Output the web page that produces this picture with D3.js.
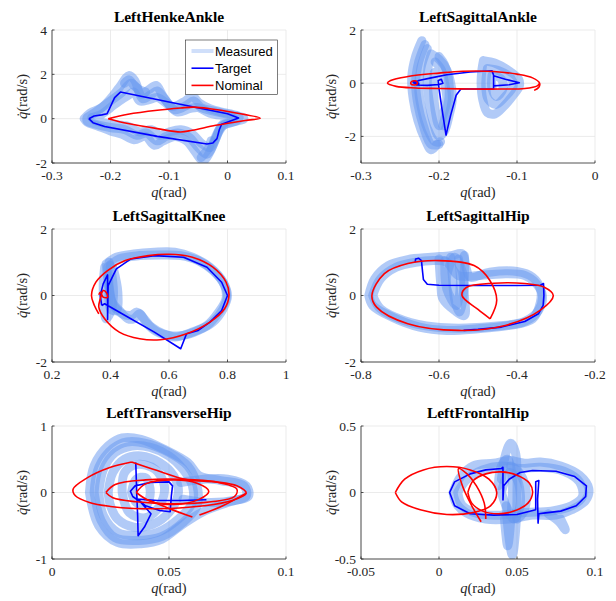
<!DOCTYPE html>
<html><head><meta charset="utf-8">
<script src="https://cdn.jsdelivr.net/npm/d3@7"></script>
<style>body{margin:0;background:#fff}svg{display:block}</style>
</head><body><svg id="c" width="616" height="601"></svg>
<script>
// ---------- Panel titles and axis ticks ----------
const titles = ["LeftHenkeAnkle","LeftSagittalAnkle","LeftSagittalKnee","LeftSagittalHip","LeftTransverseHip","LeftFrontalHip"];
const xDomains = [[-0.3,0.1],[-0.3,0],[0.2,1],[-0.8,-0.2],[0,0.1],[-0.05,0.1]];
const yDomains = [[-2,4],[-3,2],[-2,2],[-2,2],[-1,1],[-0.5,0.5]];
const xTicks = [[-0.3,-0.2,-0.1,0,0.1],[-0.3,-0.2,-0.1,0],[0.2,0.4,0.6,0.8,1],[-0.8,-0.6,-0.4,-0.2],[0,0.05,0.1],[-0.05,0,0.05,0.1]];
const yTicks = [[-2,0,2,4],[-2,0,2],[-2,0,2],[-2,0,2],[-1,0,1],[-0.5,0,0.5]];
const legendLabels = ["Measured","Target","Nominal"];

// ---------- Measured (several recorded cycles per joint) ----------
const measured1 = [
 [[-0.245,0.0],[-0.235,0.25],[-0.215,0.5],[-0.2,0.9],[-0.185,1.4],[-0.168,1.95],[-0.158,1.7],[-0.148,1.1],[-0.135,1.3],[-0.122,1.5],[-0.11,1.0],[-0.095,0.55],[-0.075,0.75],[-0.06,1.0],[-0.048,0.7],[-0.03,0.45],[-0.01,0.3],[0.015,0.15],[0.028,0.0],[0.01,-0.15],[-0.01,-0.35],[-0.02,-0.9],[-0.03,-1.5],[-0.042,-1.9],[-0.055,-1.5],[-0.07,-1.0],[-0.09,-0.8],[-0.11,-1.0],[-0.125,-1.2],[-0.14,-0.8],[-0.16,-0.95],[-0.18,-0.7],[-0.2,-0.55],[-0.22,-0.35],[-0.24,-0.15],[-0.245,0.0]],
 [[-0.24,0.05],[-0.225,0.3],[-0.21,0.6],[-0.195,0.9],[-0.18,1.2],[-0.165,1.6],[-0.155,1.4],[-0.145,0.9],[-0.13,1.1],[-0.12,1.25],[-0.105,0.8],[-0.09,0.4],[-0.07,0.6],[-0.058,0.8],[-0.045,0.5],[-0.025,0.35],[0.0,0.2],[0.02,0.05],[0.015,-0.1],[-0.005,-0.25],[-0.015,-0.6],[-0.025,-1.2],[-0.035,-1.6],[-0.05,-1.3],[-0.065,-0.85],[-0.085,-0.65],[-0.105,-0.8],[-0.12,-1.0],[-0.138,-0.65],[-0.155,-0.75],[-0.175,-0.5],[-0.2,-0.4],[-0.225,-0.25],[-0.24,-0.1],[-0.24,0.05]],
 [[-0.232,0.05],[-0.215,0.2],[-0.2,0.5],[-0.185,0.8],[-0.17,1.05],[-0.16,1.2],[-0.15,0.8],[-0.135,0.85],[-0.12,0.95],[-0.1,0.6],[-0.085,0.3],[-0.065,0.45],[-0.05,0.5],[-0.03,0.25],[0.0,0.1],[0.01,0.0],[0.0,-0.1],[-0.01,-0.3],[-0.02,-0.8],[-0.03,-1.3],[-0.045,-1.1],[-0.06,-0.7],[-0.08,-0.5],[-0.1,-0.6],[-0.115,-0.75],[-0.13,-0.5],[-0.15,-0.6],[-0.17,-0.35],[-0.2,-0.25],[-0.225,-0.1],[-0.232,0.05]],
 [[-0.176,1.6],[-0.168,1.75],[-0.16,1.5],[-0.15,1.3],[-0.14,1.2]],
 [[-0.045,-1.75],[-0.04,-1.6],[-0.033,-1.35],[-0.028,-1.0]]
];
const measured2 = [
 [[-0.222,1.6],[-0.23,1.0],[-0.235,0.2],[-0.233,-0.6],[-0.227,-1.4],[-0.218,-2.1],[-0.21,-2.5],[-0.203,-2.3]],
 [[-0.218,1.45],[-0.226,0.8],[-0.23,0.0],[-0.227,-0.8],[-0.22,-1.6],[-0.21,-2.3],[-0.2,-2.3]],
 [[-0.215,1.3],[-0.223,0.6],[-0.226,-0.2],[-0.222,-1.0],[-0.215,-1.7],[-0.205,-2.2],[-0.198,-2.2]],
 [[-0.21,1.1],[-0.2,0.9],[-0.19,0.5],[-0.185,0.0],[-0.183,-0.6],[-0.187,-1.2],[-0.193,-1.8],[-0.2,-2.0],[-0.207,-1.5],[-0.212,-0.8],[-0.215,0.0],[-0.214,0.6],[-0.21,1.1]],
 [[-0.205,0.8],[-0.197,0.5],[-0.193,0.0],[-0.19,-0.6],[-0.195,-1.2],[-0.2,-1.6],[-0.205,-1.0],[-0.207,-0.3],[-0.206,0.4]],
 [[-0.2,1.0],[-0.193,0.7],[-0.188,0.2],[-0.187,-0.5],[-0.19,-1.0],[-0.195,-1.6]],
 [[-0.143,0.85],[-0.128,0.75],[-0.112,0.5],[-0.098,0.15],[-0.097,-0.1],[-0.105,-0.45],[-0.118,-0.9],[-0.128,-1.15],[-0.138,-1.1],[-0.144,-0.6],[-0.146,0.0],[-0.145,0.5],[-0.143,0.85]],
 [[-0.138,0.55],[-0.122,0.45],[-0.108,0.2],[-0.105,-0.1],[-0.115,-0.5],[-0.127,-0.8],[-0.137,-0.6],[-0.14,-0.1],[-0.138,0.55]],
 [[-0.132,0.3],[-0.12,0.15],[-0.118,-0.2],[-0.126,-0.5],[-0.132,-0.2],[-0.132,0.3]]
];
const measured3 = [
 [[0.385,0.95],[0.42,1.15],[0.48,1.25],[0.55,1.3],[0.62,1.3],[0.68,1.15],[0.74,0.85],[0.785,0.4],[0.8,0.0],[0.785,-0.4],[0.75,-0.8],[0.7,-1.05],[0.65,-1.2],[0.6,-1.2],[0.56,-1.1],[0.52,-0.8],[0.5,-0.55],[0.48,-0.7],[0.46,-0.7],[0.43,-0.45],[0.405,-0.2],[0.395,0.2],[0.385,0.95]],
 [[0.39,0.85],[0.43,1.1],[0.5,1.2],[0.57,1.22],[0.64,1.2],[0.7,1.05],[0.75,0.75],[0.79,0.3],[0.795,-0.1],[0.77,-0.5],[0.73,-0.9],[0.68,-1.1],[0.62,-1.25],[0.58,-1.15],[0.54,-0.95],[0.51,-0.65],[0.49,-0.5],[0.47,-0.6],[0.44,-0.55],[0.41,-0.3],[0.4,0.0],[0.39,0.85]],
 [[0.38,0.85],[0.375,0.3],[0.378,-0.3],[0.385,-0.7],[0.4,-0.5],[0.41,0.0],[0.405,0.6],[0.395,1.0]],
 [[0.4,0.9],[0.395,0.2],[0.4,-0.4],[0.42,-0.45],[0.425,0.1],[0.41,0.8]]
];
const measured4 = [
 [[-0.78,0.0],[-0.765,0.5],[-0.73,0.9],[-0.68,1.08],[-0.62,1.15],[-0.57,1.2],[-0.54,1.25],[-0.53,0.8],[-0.52,0.55],[-0.47,0.7],[-0.4,0.72],[-0.36,0.55],[-0.34,0.2],[-0.34,-0.2],[-0.36,-0.7],[-0.42,-0.9],[-0.5,-1.0],[-0.58,-1.05],[-0.65,-0.95],[-0.72,-0.65],[-0.77,-0.3],[-0.78,0.0]],
 [[-0.77,0.0],[-0.75,0.5],[-0.71,0.85],[-0.66,1.0],[-0.61,1.05],[-0.58,1.0],[-0.55,0.6],[-0.5,0.6],[-0.44,0.65],[-0.38,0.6],[-0.35,0.35],[-0.335,0.0],[-0.345,-0.45],[-0.38,-0.78],[-0.45,-0.92],[-0.53,-0.98],[-0.61,-0.95],[-0.69,-0.75],[-0.75,-0.4],[-0.77,0.0]],
 [[-0.6,1.1],[-0.595,0.3],[-0.59,-0.1],[-0.56,-0.45],[-0.535,-0.6],[-0.535,0.0],[-0.54,0.7],[-0.56,1.15],[-0.58,0.6],[-0.575,-0.2]],
 [[-0.585,1.05],[-0.58,0.2],[-0.555,-0.3],[-0.545,0.4],[-0.55,1.1]],
 [[-0.57,1.15],[-0.565,0.5],[-0.56,-0.1],[-0.548,-0.5],[-0.54,-0.2],[-0.535,0.6],[-0.535,1.2]]
];
const measured5 = [
 [[0.016,0.0],[0.018,0.4],[0.024,0.7],[0.03,0.82],[0.038,0.8],[0.048,0.65],[0.058,0.45],[0.063,0.25],[0.072,0.18],[0.082,0.1],[0.083,-0.05],[0.075,-0.15],[0.064,-0.3],[0.055,-0.5],[0.047,-0.7],[0.038,-0.77],[0.028,-0.75],[0.02,-0.5],[0.016,0.0]],
 [[0.018,0.0],[0.02,0.38],[0.026,0.66],[0.032,0.76],[0.04,0.74],[0.05,0.6],[0.058,0.4],[0.062,0.1],[0.062,-0.2],[0.056,-0.45],[0.047,-0.66],[0.037,-0.72],[0.027,-0.68],[0.021,-0.42],[0.018,0.0]],
 [[0.02,0.0],[0.022,0.35],[0.027,0.6],[0.034,0.7],[0.042,0.68],[0.05,0.55],[0.056,0.35],[0.06,0.1],[0.06,-0.15],[0.054,-0.4],[0.045,-0.6],[0.036,-0.65],[0.028,-0.6],[0.022,-0.35],[0.02,0.0]],
 [[0.024,0.0],[0.026,0.3],[0.031,0.5],[0.038,0.55],[0.046,0.45],[0.052,0.25],[0.054,0.0],[0.05,-0.3],[0.043,-0.48],[0.035,-0.52],[0.028,-0.4],[0.025,-0.2],[0.024,0.0]],
 [[0.03,0.0],[0.031,0.3],[0.036,0.42],[0.044,0.35],[0.048,0.1],[0.046,-0.2],[0.04,-0.38],[0.033,-0.3],[0.03,0.0]],
 [[0.034,0.0],[0.036,0.2],[0.04,0.22],[0.042,0.0],[0.04,-0.2],[0.036,-0.15],[0.034,0.0]],
 [[0.055,0.15],[0.065,0.2],[0.075,0.2],[0.083,0.1],[0.084,-0.05],[0.078,-0.12],[0.066,-0.15],[0.056,-0.1]]
];
const measured6 = [
 [[0.009,0.0],[0.014,0.12],[0.022,0.2],[0.035,0.22],[0.045,0.24],[0.055,0.22],[0.065,0.23],[0.078,0.2],[0.09,0.13],[0.096,0.03],[0.094,-0.06],[0.085,-0.13],[0.075,-0.17],[0.06,-0.17],[0.045,-0.2],[0.03,-0.2],[0.017,-0.15],[0.011,-0.08],[0.009,0.0]],
 [[0.012,0.0],[0.018,0.1],[0.028,0.17],[0.04,0.2],[0.052,0.18],[0.065,0.19],[0.08,0.16],[0.09,0.08],[0.092,-0.03],[0.085,-0.1],[0.072,-0.14],[0.055,-0.15],[0.04,-0.17],[0.025,-0.16],[0.015,-0.1],[0.012,0.0]],
 [[0.04,0.1],[0.043,0.3],[0.046,0.37],[0.049,0.3],[0.05,0.0],[0.049,-0.3],[0.047,-0.47],[0.045,-0.35],[0.043,-0.1]],
 [[0.038,0.05],[0.04,0.2],[0.044,0.25],[0.047,0.1],[0.046,-0.2],[0.044,-0.4],[0.042,-0.2]],
 [[0.07,-0.16],[0.077,-0.22],[0.081,-0.28],[0.078,-0.2]],
 [[0.04,0.0],[0.045,0.15],[0.05,0.1],[0.052,-0.1],[0.048,-0.2],[0.043,-0.1],[0.04,0.0]],
 [[0.046,0.2],[0.052,0.14],[0.056,0.0],[0.054,-0.15],[0.05,-0.2]]
];

// ---------- Target trajectories ----------
const target1 = [[-0.237,0.0],[-0.228,0.12],[-0.215,0.17],[-0.206,0.22],[-0.2,0.55],[-0.193,0.95],[-0.183,1.2],[-0.1,0.75],[0.0,0.22],[0.019,0.03],[0.005,-0.1],[-0.01,-0.25],[-0.014,-0.5],[-0.018,-0.9],[-0.025,-1.1],[-0.035,-1.14],[-0.12,-0.8],[-0.21,-0.35],[-0.23,-0.18],[-0.237,0.0]];
const target2 = [[-0.232,0],[-0.226,0.1],[-0.21,0.2],[-0.19,0.32],[-0.16,0.42],[-0.132,0.47],[-0.13,0.3],[-0.13,-0.2],[-0.13,0.28],[-0.115,0.15],[-0.097,0.02],[-0.11,-0.06],[-0.13,-0.1],[-0.13,-0.22],[-0.15,-0.22],[-0.172,-0.22],[-0.178,-0.45],[-0.185,-1.2],[-0.191,-1.95],[-0.196,-1.0],[-0.2,-0.2],[-0.201,0.1],[-0.197,0.15],[-0.195,0.0],[-0.2,-0.05],[-0.215,-0.08],[-0.228,-0.07],[-0.233,0.02],[-0.232,0.08],[-0.228,0.06],[-0.226,-0.02],[-0.232,0]];
const target3 = [[0.37,-0.3],[0.365,0],[0.375,0.35],[0.39,0.62],[0.39,-0.72],[0.392,0.3],[0.42,0.8],[0.47,1.1],[0.55,1.2],[0.65,1.15],[0.73,0.85],[0.78,0.4],[0.8,0],[0.78,-0.45],[0.74,-0.8],[0.7,-1.05],[0.66,-1.15],[0.64,-1.6],[0.55,-1.1],[0.45,-0.6],[0.38,-0.25],[0.37,-0.3]];
const target4 = [[-0.661,1.0],[-0.66,1.1],[-0.652,1.12],[-0.645,1.05],[-0.642,0.7],[-0.64,0.48],[-0.63,0.34],[-0.6,0.31],[-0.5,0.3],[-0.4,0.3],[-0.34,0.31],[-0.332,0.36],[-0.331,0.0],[-0.333,-0.3],[-0.345,-0.55],[-0.38,-0.78],[-0.44,-0.95],[-0.5,-1.02],[-0.537,-1.05]];
const target5 = [[0.0358,0.45],[0.0362,0.0],[0.0366,-0.35],[0.0368,-0.65],[0.0395,-0.52],[0.0423,-0.32],[0.038,-0.15],[0.0345,-0.06],[0.0335,0.02],[0.0355,0.1],[0.042,0.15],[0.05,0.16],[0.0515,0.1],[0.051,-0.05],[0.0505,-0.29],[0.046,-0.27],[0.04,-0.2],[0.0365,-0.1],[0.045,-0.12],[0.055,-0.12],[0.066,-0.11]];
const target6 = [[0.041,-0.06],[0.0415,0.05],[0.045,0.1],[0.052,0.15],[0.06,0.165],[0.075,0.16],[0.087,0.12],[0.0945,0.05],[0.094,-0.03],[0.088,-0.1],[0.078,-0.14],[0.067,-0.155],[0.064,-0.16],[0.0635,-0.23],[0.0632,-0.05],[0.064,0.09],[0.062,0.08],[0.062,-0.13],[0.05,-0.165],[0.035,-0.17],[0.02,-0.16],[0.01,-0.1],[0.0068,0],[0.01,0.08],[0.02,0.14],[0.03,0.17],[0.04,0.18],[0.041,0.19],[0.041,-0.06]];

// ---------- Nominal trajectories (segments) ----------
const nominal1 = [[[-0.204,0.0],[-0.17,0.2],[-0.12,0.38],[-0.08,0.48],[-0.058,0.52],[-0.03,0.45],[0.01,0.28],[0.056,0.02],[0.03,-0.08],[-0.02,-0.3],[-0.06,-0.52],[-0.08,-0.6],[-0.12,-0.45],[-0.17,-0.22],[-0.204,0.0]]];
const nominal2 = [
 [[-0.078,-0.27],[-0.072,-0.15],[-0.071,0],[-0.08,0.2],[-0.1,0.34],[-0.13,0.44],[-0.17,0.45],[-0.2,0.38],[-0.24,0.25],[-0.262,0.1],[-0.266,0],[-0.255,-0.12],[-0.23,-0.18],[-0.2,-0.2],[-0.16,-0.22],[-0.12,-0.22],[-0.09,-0.2],[-0.074,-0.1],[-0.071,0.0]],
 [[-0.236,0.05],[-0.232,0.09],[-0.228,0.05],[-0.228,-0.03],[-0.232,-0.07],[-0.236,-0.03],[-0.236,0.05]]
];
const nominal3 = [[[0.36,-0.55],[0.345,-0.3],[0.335,0],[0.35,0.4],[0.39,0.75],[0.45,1.05],[0.53,1.2],[0.6,1.24],[0.68,1.15],[0.75,0.85],[0.795,0.4],[0.805,0],[0.79,-0.4],[0.74,-0.8],[0.66,-1.15],[0.57,-1.33],[0.5,-1.3],[0.43,-1.1],[0.38,-0.7],[0.36,-0.35],[0.365,-0.1],[0.375,0.15],[0.385,0.1],[0.39,-0.05],[0.375,-0.05],[0.365,0.1],[0.36,0.02]]];
const nominal4 = [[[-0.469,-0.7],[-0.5,-0.42],[-0.541,0],[-0.53,0.24],[-0.46,0.37],[-0.38,0.36],[-0.33,0.25],[-0.307,0],[-0.34,-0.44],[-0.43,-0.9],[-0.55,-1.05],[-0.68,-0.85],[-0.76,-0.35],[-0.772,0],[-0.74,0.66],[-0.68,0.96],[-0.6,1.05],[-0.51,0.9],[-0.47,0.46],[-0.452,-0.14],[-0.469,-0.7]]];
const nominal5 = [
 [[0.034,0.46],[0.025,0.38],[0.015,0.22],[0.009,0.05],[0.01,-0.05],[0.016,-0.15],[0.025,-0.21],[0.035,-0.24],[0.05,-0.24],[0.065,-0.2],[0.077,-0.12],[0.083,-0.01],[0.079,0.1],[0.07,0.16],[0.058,0.19],[0.045,0.33],[0.034,0.46]],
 [[0.023,0.0],[0.027,0.12],[0.04,0.19],[0.055,0.2],[0.07,0.16],[0.079,0.05],[0.078,-0.06],[0.068,-0.14],[0.052,-0.17],[0.036,-0.14],[0.026,-0.08],[0.023,0.0]],
 [[0.036,0.0],[0.04,0.13],[0.052,0.19],[0.062,0.14],[0.067,0.02],[0.063,-0.1],[0.052,-0.18],[0.042,-0.13],[0.036,0.0]],
 [[0.041,-0.11],[0.05,-0.24],[0.06,-0.37]],
 [[0.063,-0.34],[0.073,-0.2],[0.083,-0.01]]
];
const nominal6 = [
 [[-0.028,0.0],[-0.022,0.1],[-0.01,0.17],[0.005,0.195],[0.02,0.17],[0.032,0.1],[0.037,0.0],[0.033,-0.1],[0.022,-0.15],[0.005,-0.165],[-0.012,-0.13],[-0.024,-0.07],[-0.028,0.0]],
 [[0.0185,0.0],[0.022,0.09],[0.03,0.14],[0.04,0.155],[0.05,0.13],[0.058,0.07],[0.06,0.0],[0.057,-0.08],[0.048,-0.14],[0.038,-0.16],[0.028,-0.14],[0.021,-0.08],[0.0185,0.0]],
 [[0.027,-0.22],[0.021,-0.1],[0.015,0.05],[0.0125,0.18],[0.018,0.14],[0.024,0.05],[0.029,-0.08],[0.03,-0.2]]
];

const measuredAll = [measured1,measured2,measured3,measured4,measured5,measured6];
const targetAll = [target1,target2,target3,target4,target5,target6];
const nominalAll = [nominal1,nominal2,nominal3,nominal4,nominal5,nominal6];

// ---------- Layout ----------
const colX = [52, 361], axW = 234;
const rowY = [30, 229, 426], axH = 133;
const serif = "'Liberation Serif','Times New Roman',serif";
const MEAS = "rgb(100,150,240)";
const svg = d3.select("#c");

titles.forEach((title, i) => {
  const left = colX[i % 2], top = rowY[Math.floor(i / 2)];
  const x = d3.scaleLinear().domain(xDomains[i]).range([left, left + axW]);
  const y = d3.scaleLinear().domain(yDomains[i]).range([top + axH, top]);
  const g = svg.append("g");

  g.selectAll(".gx").data(xTicks[i]).join("line")
    .attr("x1", d => x(d)).attr("x2", d => x(d)).attr("y1", top).attr("y2", top + axH)
    .attr("stroke", "#e6e6e6").attr("stroke-width", 0.8);
  g.selectAll(".gy").data(yTicks[i]).join("line")
    .attr("y1", d => y(d)).attr("y2", d => y(d)).attr("x1", left).attr("x2", left + axW)
    .attr("stroke", "#e6e6e6").attr("stroke-width", 0.8);

  const clipId = "clip" + i;
  svg.append("clipPath").attr("id", clipId).append("rect")
    .attr("x", left).attr("y", top).attr("width", axW).attr("height", axH);
  const plot = g.append("g").attr("clip-path", `url(#${clipId})`);

  const smooth = d3.line().x(d => x(d[0])).y(d => y(d[1])).curve(d3.curveCatmullRom.alpha(0.5));
  const straight = d3.line().x(d => x(d[0])).y(d => y(d[1]));

  plot.selectAll(".m").data(measuredAll[i]).join("path")
    .attr("d", smooth).attr("fill", "none").attr("stroke", MEAS)
    .attr("stroke-width", 9).attr("stroke-opacity", 0.5)
    .attr("stroke-linejoin", "round").attr("stroke-linecap", "round");

  plot.append("path").datum(targetAll[i]).attr("d", straight)
    .attr("fill", "none").attr("stroke", "#0000ff").attr("stroke-width", 1.6)
    .attr("stroke-linejoin", "round");

  plot.selectAll(".n").data(nominalAll[i]).join("path")
    .attr("d", smooth).attr("fill", "none").attr("stroke", "#ff0000").attr("stroke-width", 1.6)
    .attr("stroke-linejoin", "round");

  g.append("line").attr("x1", left).attr("x2", left + axW).attr("y1", top + axH).attr("y2", top + axH)
    .attr("stroke", "#262626").attr("stroke-width", 0.8);
  g.append("line").attr("x1", left).attr("x2", left).attr("y1", top).attr("y2", top + axH)
    .attr("stroke", "#262626").attr("stroke-width", 0.8);
  g.selectAll(".tx").data(xTicks[i]).join("line")
    .attr("x1", d => x(d)).attr("x2", d => x(d)).attr("y1", top + axH).attr("y2", top + axH - 2.5)
    .attr("stroke", "#262626").attr("stroke-width", 0.8);
  g.selectAll(".ty").data(yTicks[i]).join("line")
    .attr("y1", d => y(d)).attr("y2", d => y(d)).attr("x1", left).attr("x2", left + 2.5)
    .attr("stroke", "#262626").attr("stroke-width", 0.8);

  g.selectAll(".lx").data(xTicks[i]).join("text")
    .attr("x", d => x(d)).attr("y", top + axH + 17).attr("text-anchor", "middle")
    .attr("font-family", serif).attr("font-size", 13.5).attr("fill", "#262626")
    .text(d => String(d));
  g.selectAll(".ly").data(yTicks[i]).join("text")
    .attr("x", left - 5).attr("y", d => y(d)).attr("dy", "0.35em").attr("text-anchor", "end")
    .attr("font-family", serif).attr("font-size", 13.5).attr("fill", "#262626")
    .text(d => String(d));

  const xl = g.append("text").attr("x", left + axW / 2).attr("y", top + axH + 34)
    .attr("text-anchor", "middle").attr("font-family", serif).attr("font-size", 14.5).attr("fill", "#262626");
  xl.append("tspan").attr("font-style", "italic").text("q");
  xl.append("tspan").text("(rad)");
  const yl = g.append("text").attr("transform", `translate(${left - 25},${top + axH / 2}) rotate(-90)`)
    .attr("text-anchor", "middle").attr("font-family", serif).attr("font-size", 14.5).attr("fill", "#262626");
  yl.append("tspan").attr("font-style", "italic").text("q\u0307");
  yl.append("tspan").text("(rad/s)");

  g.append("text").attr("x", left + axW / 2).attr("y", top - 8).attr("text-anchor", "middle")
    .attr("font-family", serif).attr("font-weight", "bold").attr("font-size", 15.5).attr("fill", "#000")
    .text(title);
});

// ---------- Legend (first panel) ----------
const lg = svg.append("g");
lg.append("rect").attr("x", 185.5).attr("y", 40).attr("width", 92).attr("height", 54.5)
  .attr("fill", "#fff").attr("stroke", "#262626").attr("stroke-width", 0.6);
const legStyles = [
  {c: MEAS, w: 4, o: 0.3},
  {c: "#0000ff", w: 1.6, o: 1},
  {c: "#ff0000", w: 1.6, o: 1}
];
legendLabels.forEach((lab, k) => {
  const yy = 51 + k * 17.2;
  lg.append("line").attr("x1", 191.5).attr("x2", 213.5).attr("y1", yy).attr("y2", yy)
    .attr("stroke", legStyles[k].c).attr("stroke-width", legStyles[k].w).attr("stroke-opacity", legStyles[k].o);
  lg.append("text").attr("x", 215).attr("y", yy).attr("dy", "0.35em")
    .attr("font-family", "'Liberation Sans',Arial,sans-serif").attr("font-size", 13).attr("fill", "#000")
    .text(lab);
});
</script></body></html>
